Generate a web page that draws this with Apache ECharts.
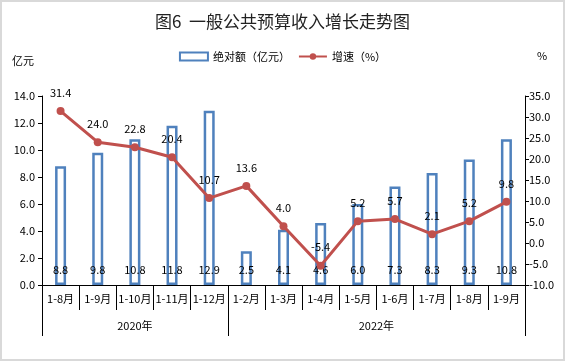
<!DOCTYPE html>
<html><head><meta charset="utf-8">
<script src="https://cdn.jsdelivr.net/npm/echarts@6/dist/echarts.min.js"></script>
<style>html,body{margin:0;padding:0;background:#fff}#c{width:565px;height:361px;box-shadow:inset 0 0 0 2px #d9d9d9}</style>
</head><body><div id="c"></div>
<script>
const categories = ['1-8月','1-9月','1-10月','1-11月','1-12月','1-2月','1-3月','1-4月','1-5月','1-6月','1-7月','1-8月','1-9月'];
const absValues = [8.8, 9.8, 10.8, 11.8, 12.9, 2.5, 4.1, 4.6, 6.0, 7.3, 8.3, 9.3, 10.8];
const growthValues = [31.4, 24.0, 22.8, 20.4, 10.7, 13.6, 4.0, -5.4, 5.2, 5.7, 2.1, 5.2, 9.8];
const yearGroups = [{label:'2020年', start:0, end:5}, {label:'2022年', start:5, end:13}];

const font = '"Noto Sans CJK SC", sans-serif';
const chart = echarts.init(document.getElementById('c'), null, {renderer:'canvas'});
const yearLabelPos = yearGroups.map(g => (g.start + g.end) / 2);
const yearBounds = [0].concat(yearGroups.map(g => g.end));
chart.setOption({
  animation:false,
  textStyle:{fontFamily:font, color:'#000'},
  title:{text:'图6  一般公共预算收入增长走势图', left:'center', top:8, textStyle:{fontSize:17, fontWeight:'normal', color:'#222', fontFamily:font}},
  legend:{top:46, left:'center', itemGap:8, itemWidth:28, itemHeight:8, textStyle:{fontSize:11, color:'#000', fontFamily:font},
    data:[{name:'绝对额（亿元）', icon:'rect', itemStyle:{color:'#fff', borderColor:'#4F81BD', borderWidth:2}}, {name:'增速（%）'}]},
  grid:{left:42, right:40, top:96, bottom:76},
  xAxis:[
    {type:'category', data:categories, position:'bottom',
     axisLine:{onZero:false, lineStyle:{color:'#000', width:1}},
     axisTick:{show:true, interval:0, length:25, lineStyle:{color:'#000'}},
     axisLabel:{interval:0, fontSize:11, color:'#000', margin:8, fontFamily:font}},
    {type:'value', min:0, max:13, position:'bottom', gridIndex:0,
     axisLine:{show:false, onZero:false}, splitLine:{show:false},
     axisTick:{show:true, length:51, customValues:yearBounds, lineStyle:{color:'#000'}},
     axisLabel:{show:true, customValues:yearLabelPos, fontSize:11, color:'#000', margin:35, fontFamily:font,
       formatter:function(v){ const g = yearGroups.find(g => Math.abs((g.start+g.end)/2 - v) < 0.01); return g ? g.label : ''; }}}
  ],
  yAxis:[
    {type:'value', min:0, max:14, interval:2, name:'亿元', nameLocation:'end', nameGap:30,
     nameTextStyle:{fontSize:11, color:'#000', align:'right', padding:[0,8,0,0]},
     axisLine:{show:true, lineStyle:{color:'#000'}}, axisTick:{show:true, length:4, lineStyle:{color:'#000'}},
     splitLine:{show:false}, axisLabel:{fontSize:11, color:'#000', margin:7, formatter:v=>v.toFixed(1)}},
    {type:'value', min:-10, max:35, interval:5, name:'%', nameLocation:'end', nameGap:35,
     nameTextStyle:{fontSize:11, color:'#000', align:'left', padding:[0,0,0,12]},
     axisLine:{show:true, lineStyle:{color:'#000'}}, axisTick:{show:true, length:4, lineStyle:{color:'#000'}},
     splitLine:{show:false}, axisLabel:{fontSize:11, color:'#000', margin:4, formatter:v=>v.toFixed(1)}}
  ],
  series:[
    {name:'绝对额（亿元）', type:'bar', data:absValues, barWidth:11, yAxisIndex:0, xAxisIndex:0,
     itemStyle:{color:'#fff', borderColor:'#4F81BD', borderWidth:2.5},
     label:{show:true, position:'insideBottom', distance:10, fontSize:11, color:'#000', formatter:p=>p.value.toFixed(1)}},
    {name:'增速（%）', type:'line', data:growthValues, yAxisIndex:1, xAxisIndex:0,
     lineStyle:{color:'#C0504D', width:3}, itemStyle:{color:'#C0504D'}, symbol:'circle', symbolSize:8,
     label:{show:true, position:'top', distance:9, fontSize:11, color:'#000', formatter:p=>p.value.toFixed(1)}}
  ]
});
</script></body></html>
